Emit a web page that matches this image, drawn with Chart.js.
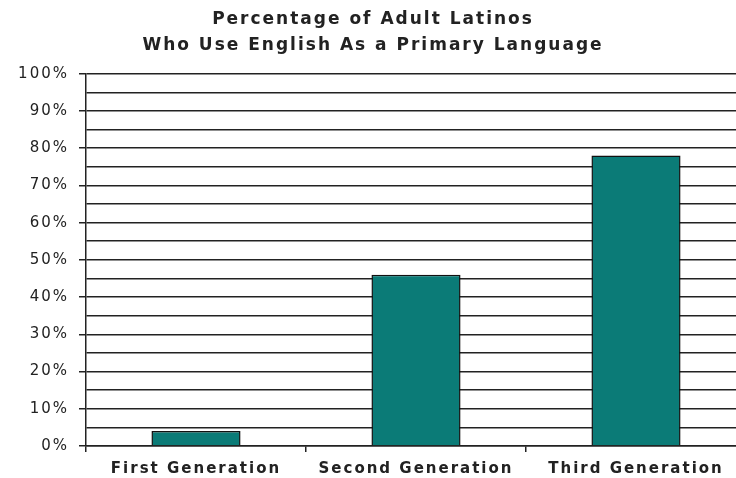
<!DOCTYPE html>
<html>
<head>
<meta charset="utf-8">
<script src="https://cdn.jsdelivr.net/npm/chart.js@4/dist/chart.umd.min.js"></script>
<style>
  html, body { margin: 0; padding: 0; background: #fff; overflow: hidden; }
  #wrap { width: 746px; height: 478px; }
</style>
</head>
<body>
<div id="wrap"><canvas id="chart"></canvas></div>
<script>
const categories = ['First Generation', 'Second Generation', 'Third Generation'];
const percentages = [4, 46, 78];
const titleLines = ['Percentage of Adult Latinos', 'Who Use English As a Primary Language'];

// the original picture is stretched wide, so spread the letters out a bit
const spacingPlugin = {
  id: 'spacing',
  beforeUpdate(chart) { chart.ctx.letterSpacing = '2px'; },
  beforeDraw(chart) { chart.ctx.letterSpacing = '2px'; }
};

const FONT = 'DejaVu Sans, Verdana, sans-serif';

const ctx = document.getElementById('chart').getContext('2d');
new Chart(ctx, {
  type: 'bar',
  data: {
    labels: categories,
    datasets: [{
      data: percentages,
      backgroundColor: '#0b7b77',
      borderColor: '#111',
      borderWidth: 1.5,
      barPercentage: 0.405,
      categoryPercentage: 1
    }]
  },
  options: {
    responsive: true,
    maintainAspectRatio: false,
    animation: false,
    layout: { padding: 0 },
    plugins: {
      legend: { display: false },
      tooltip: { enabled: false },
      title: {
        display: true,
        text: titleLines,
        color: '#222',
        font: { family: FONT, size: 17, weight: 'bold', lineHeight: 1.55 },
        padding: { top: 6, bottom: 15 }
      }
    },
    scales: {
      x: {
        grid: {
          offset: true,
          drawOnChartArea: false,
          color: '#222',
          lineWidth: 1.5,
          tickLength: 6
        },
        border: { color: '#222', width: 1.5 },
        ticks: {
          color: '#222',
          padding: 8,
          font: { family: FONT, size: 15, weight: 'bold' }
        },
        afterFit(scale) { scale.height = 32; }
      },
      y: {
        min: 0,
        max: 100,
        grid: {
          color: '#222',
          lineWidth: 1.5,
          tickLength: 7,
          tickColor: c => (c.tick && c.tick.value % 10 === 0) ? '#222' : 'rgba(0,0,0,0)'
        },
        border: { color: '#222', width: 1.5 },
        ticks: {
          stepSize: 5,
          autoSkip: false,
          color: '#222',
          padding: 10,
          font: { family: FONT, size: 15 },
          callback: v => v % 10 === 0 ? v + '%' : ''
        },
        afterFit(scale) { scale.width = 86; }
      }
    }
  },
  plugins: [spacingPlugin]
});
</script>
</body>
</html>
